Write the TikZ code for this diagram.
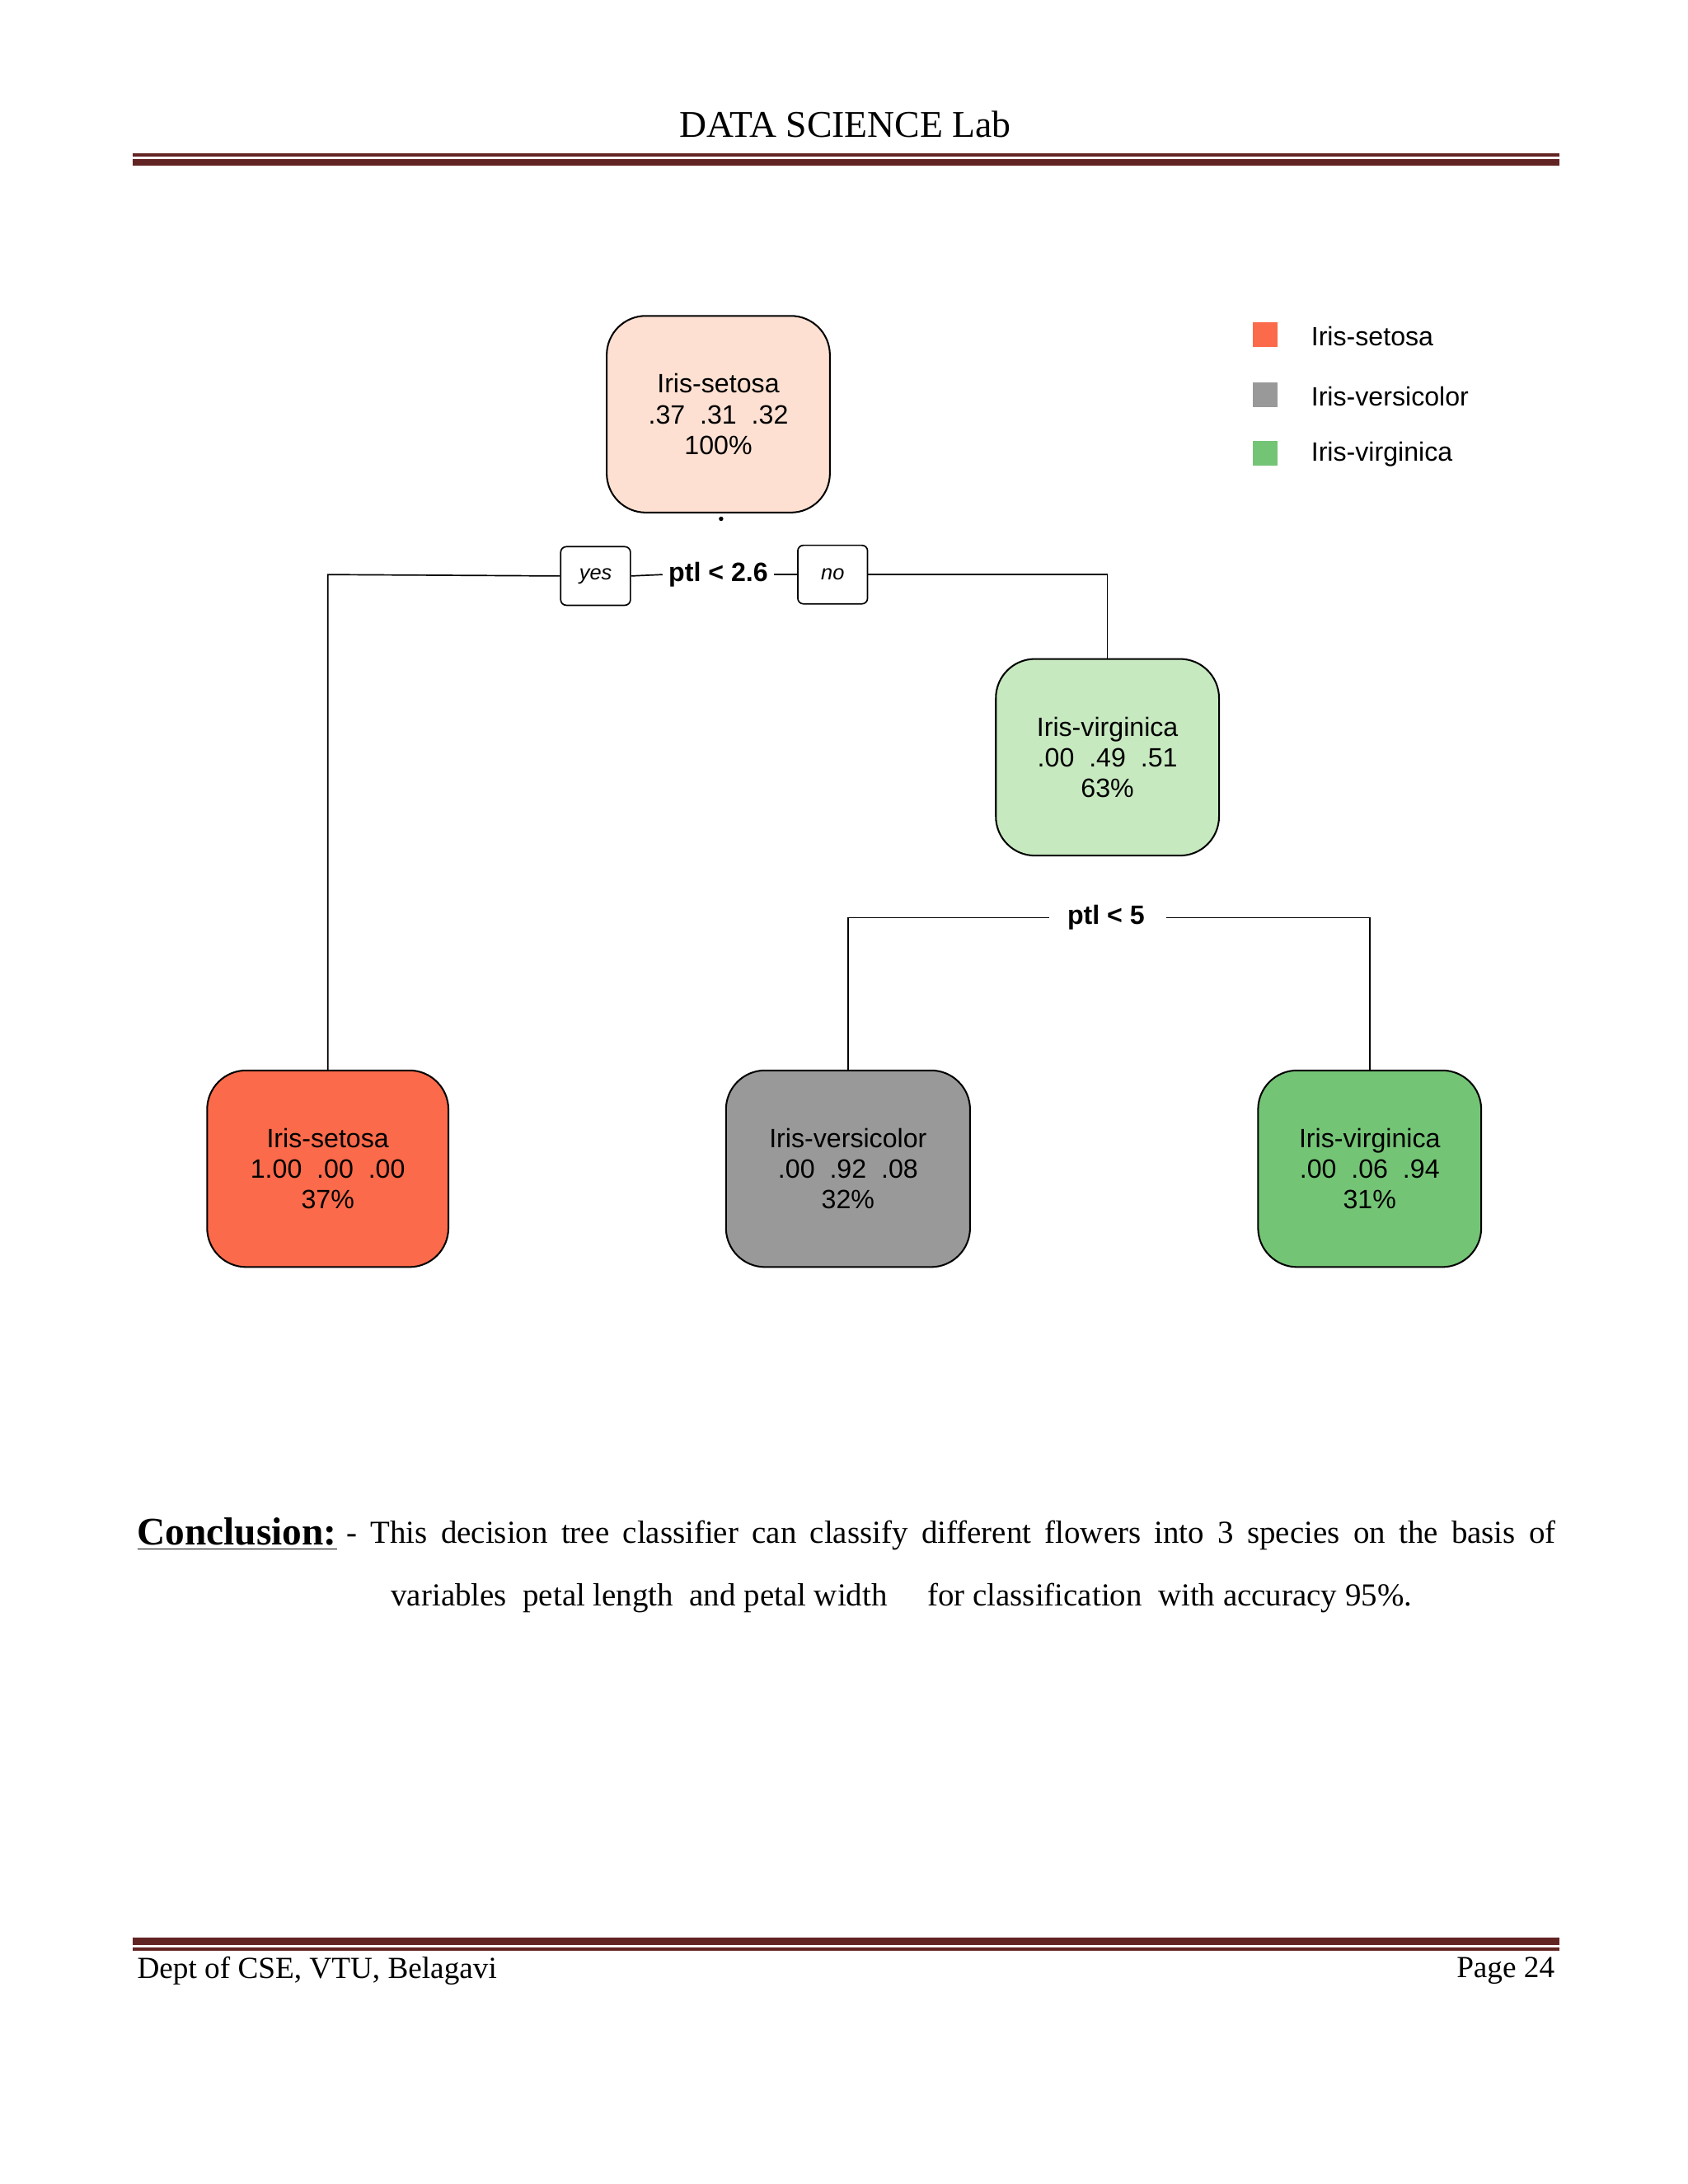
\documentclass[tikz,border=0pt]{standalone}
\usepackage{fontspec}
\setmainfont{Liberation Serif}
\newfontfamily\arialf{Liberation Sans}
\definecolor{rulec}{HTML}{622423}
\definecolor{cset}{HTML}{FB6A4A}
\definecolor{cver}{HTML}{999999}
\definecolor{cvir}{HTML}{74C476}
\definecolor{croot}{HTML}{FDE0D2}
\definecolor{cmid}{HTML}{C7E9C0}
\begin{document}
\begin{tikzpicture}[x=0.5pt,y=-0.5pt,
  leaf/.style={draw=black,line width=0.6pt,rounded corners=14pt,minimum height=70.5pt,align=center,font=\arialf\fontsize{9.5}{11}\selectfont,inner sep=0pt},
  lab/.style={draw=black,line width=0.5pt,rounded corners=2pt,minimum width=25pt,minimum height=21pt,font=\arialf\itshape\fontsize{7.5}{9}\selectfont,inner sep=0pt},
  split/.style={font=\arialf\bfseries\fontsize{9.5}{11}\selectfont,inner sep=2pt},
  edge/.style={line width=0.5pt},
  lg/.style={anchor=west,font=\arialf\fontsize{9.5}{11}\selectfont}]
\fill[white] (0,0) rectangle (1210,1566);
\useasboundingbox (0,0) rectangle (1210,1566);
% header
\node[font=\fontsize{13.5}{16}\selectfont] (hdr) at (606,89) {DATA SCIENCE Lab};
\draw[rulec,line width=1pt] (95,111) -- (1118,111);
\draw[rulec,line width=2.5pt] (95,116.5) -- (1118,116.5);
% footer
\draw[rulec,line width=2.5pt] (95,1392) -- (1118,1392);
\draw[rulec,line width=1pt] (95,1397.5) -- (1118,1397.5);
\node[anchor=west,font=\fontsize{11}{13}\selectfont,inner sep=0pt] (f1) at (98,1413) {Dept of CSE, VTU, Belagavi};
\node[anchor=east,font=\fontsize{11}{13}\selectfont,inner sep=0pt] (f2) at (1115,1413) {Page 24};
% tree
\node[leaf,fill=croot,minimum width=80pt] (root) at (515,297) {Iris-setosa\\.37\ \ .31\ \ .32\\100\%};
\node[leaf,fill=cmid,minimum width=80pt] (mid) at (794,543) {Iris-virginica\\.00\ \ .49\ \ .51\\63\%};
\node[leaf,fill=cset,minimum width=86.5pt] (l1) at (235,838) {Iris-setosa\\1.00\ \ .00\ \ .00\\37\%};
\node[leaf,fill=cver,minimum width=87.5pt] (l2) at (608,838) {Iris-versicolor\\.00\ \ .92\ \ .08\\32\%};
\node[leaf,fill=cvir,minimum width=80pt] (l3) at (982,838) {Iris-virginica\\.00\ \ .06\ \ .94\\31\%};
\fill (517,372) circle (0.8pt);
\node[split] (s1) at (515,412) {ptl < 2.6};
\node[lab] (yes) at (427,413) {yes};
\node[lab] (no) at (597,412) {no};
\draw[edge] (l1.north) -- (235,412) -- (yes.west);
\draw[edge] (yes.east) -- (s1.west);
\draw[edge] (s1.east) -- (no.west);
\draw[edge] (no.east) -- (794,412) -- (mid.north);
\node[split] (s2) at (793,658) {ptl < 5};
\draw[edge] (l2.north) -- (608,658) -- (752,658);
\draw[edge] (836,658) -- (982,658) -- (l3.north);
% legend
\fill[cset] (898,231) rectangle (916,249);
\fill[cver] (898,274) rectangle (916,292);
\fill[cvir] (898,316) rectangle (916,334);
\node[lg] (g1) at (933,241) {Iris-setosa};
\node[lg] (g2) at (933,284) {Iris-versicolor};
\node[lg] (g3) at (933,326) {Iris-virginica};
% conclusion
\node[anchor=west,inner sep=0pt,font=\bfseries\fontsize{14}{16}\selectfont] (cc) at (98,1100) {\underline{Conclusion:}};
\node[anchor=west,inner sep=0pt,font=\fontsize{11.5}{14}\selectfont] (t1) at (248,1101) {\hbox to 433.5pt{\spaceskip=3pt plus 1fil - This decision tree classifier can classify different flowers into 3 species on the basis of}};
\node[anchor=west,inner sep=0pt,font=\fontsize{11.5}{14}\selectfont] (t2) at (280,1146) {variables\ \ petal length\ \ and petal width\ \ \ \ \ for classification\ \ with accuracy 95\%.};
\end{tikzpicture}
\end{document}
